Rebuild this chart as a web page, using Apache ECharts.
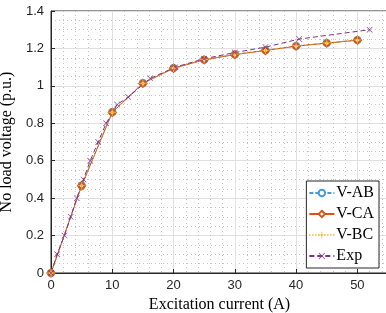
<!DOCTYPE html>
<html>
<head>
<meta charset="utf-8">
<script src="https://cdn.jsdelivr.net/npm/echarts@6/dist/echarts.min.js"></script>
<style>html,body{margin:0;padding:0;background:#fff}#c{width:386px;height:313px}</style>
</head>
<body>
<div id="c"></div>
<script>
const currentV = [0, 5, 10, 15, 20, 25, 30, 35, 40, 45, 50];
const vAB = [0, 0.468, 0.86, 1.015, 1.095, 1.14, 1.168, 1.19, 1.213, 1.229, 1.245];
const vCA = [0, 0.466, 0.858, 1.013, 1.094, 1.139, 1.167, 1.189, 1.212, 1.228, 1.244];
const vBC = [0, 0.467, 0.859, 1.014, 1.096, 1.141, 1.169, 1.191, 1.214, 1.23, 1.246];
const expCurrent = [0, 1, 2.2, 3.2, 4.2, 5.3, 6.4, 7.7, 9, 10.8, 12.6, 16.2, 20.3, 25, 30, 35, 40.5, 52];
const expVoltage = [0, 0.1, 0.2, 0.3, 0.4, 0.5, 0.6, 0.7, 0.8, 0.9, 0.94, 1.04, 1.1, 1.145, 1.178, 1.207, 1.25, 1.3];
const xTicks = [0, 10, 20, 30, 40, 50];
const yTicks = [0, 0.2, 0.4, 0.6, 0.8, 1, 1.2, 1.4];

const pair = (xs, ys) => xs.map((x, i) => [x, ys[i]]);
const plusPath = 'path://M4.45,0h1.1v4.45h4.45v1.1h-4.45v4.45h-1.1v-4.45h-4.45v-1.1h4.45z';
const crossPath = 'path://M0.7,0L5,4.3L9.3,0L10,0.7L5.7,5L10,9.3L9.3,10L5,5.7L0.7,10L0,9.3L4.3,5L0,0.7z';

const cAB = '#4a9ad6', cCA = '#D95319', cBC = '#EDB120', cExp = '#7E2F8E';
const serif = 'Liberation Serif';
const sans = 'Liberation Sans';

const chart = echarts.init(document.getElementById('c'));
chart.setOption({
  animation: false,
  grid: { left: 51, top: 11, right: -2, bottom: 40, show: true, borderColor: '#262626', borderWidth: 1,
    containLabel: false, outerBoundsMode: 'none' },
  xAxis: {
    type: 'value', min: 0, max: 55, interval: 10,
    name: 'Excitation current (A)', nameLocation: 'middle', nameGap: 17,
    nameTextStyle: { fontFamily: serif, fontSize: 16, color: '#000' },
    axisLine: { lineStyle: { color: '#262626' } },
    axisTick: { inside: true, length: 4, lineStyle: { color: '#262626' } },
    axisLabel: { fontFamily: sans, fontSize: 13, color: '#262626', margin: 6,
      formatter: v => xTicks.includes(v) ? String(v) : '' },
    splitLine: { show: true, lineStyle: { color: '#e0e0e0', width: 1 } },
    minorTick: { show: false, splitNumber: 5 },
    minorSplitLine: { show: true, lineStyle: { color: '#c4c4c4', type: [1, 3], width: 1 } }
  },
  yAxis: {
    type: 'value', min: 0, max: 1.4, interval: 0.2,
    name: 'No load voltage (p.u.)', nameLocation: 'middle', nameGap: 26,
    nameTextStyle: { fontFamily: serif, fontSize: 16, color: '#000' },
    axisLine: { show: true, lineStyle: { color: '#262626' } },
    axisTick: { show: true, inside: true, length: 4, lineStyle: { color: '#262626' } },
    axisLabel: { fontFamily: sans, fontSize: 13, color: '#262626', margin: 7,
      formatter: v => { const t = yTicks.find(k => Math.abs(k - v) < 1e-6); return t === undefined ? '' : String(+t.toFixed(1)); } },
    splitLine: { show: true, lineStyle: { color: '#e0e0e0', width: 1 } },
    minorTick: { show: false, splitNumber: 4 },
    minorSplitLine: { show: true, lineStyle: { color: '#c4c4c4', type: [1, 3], width: 1 } }
  },
  legend: {
    orient: 'vertical', right: 7, top: 181,
    backgroundColor: '#fff', borderColor: '#262626', borderWidth: 1, borderRadius: 0,
    padding: [4, 5, 4, 2], itemGap: 5, itemWidth: 25, itemHeight: 8,
    textStyle: { fontFamily: serif, fontSize: 16, color: '#000', padding: [0, 0, 0, -3] },
    data: ['V-AB', 'V-CA', 'V-BC', 'Exp']
  },
  series: [
    { name: 'V-AB', type: 'line', data: pair(currentV, vAB), symbol: 'emptyCircle', symbolSize: 6,
      itemStyle: { color: cAB, borderColor: cAB, borderWidth: 1 }, lineStyle: { color: cAB, width: 1, type: [4, 2] } },
    { name: 'V-CA', type: 'line', data: pair(currentV, vCA), symbol: 'emptyDiamond', symbolSize: 7,
      itemStyle: { color: cCA, borderColor: cCA, borderWidth: 0.8 }, lineStyle: { color: cCA, width: 1 } },
    { name: 'V-BC', type: 'line', data: pair(currentV, vBC), symbol: plusPath, symbolSize: 8,
      itemStyle: { color: cBC }, lineStyle: { color: cBC, width: 1, type: [1, 2] } },
    { name: 'Exp', type: 'line', data: pair(expCurrent, expVoltage), symbol: crossPath, symbolSize: 6,
      itemStyle: { color: cExp }, lineStyle: { color: cExp, width: 1, type: [5, 3] } }
  ]
});
</script>
</body>
</html>
